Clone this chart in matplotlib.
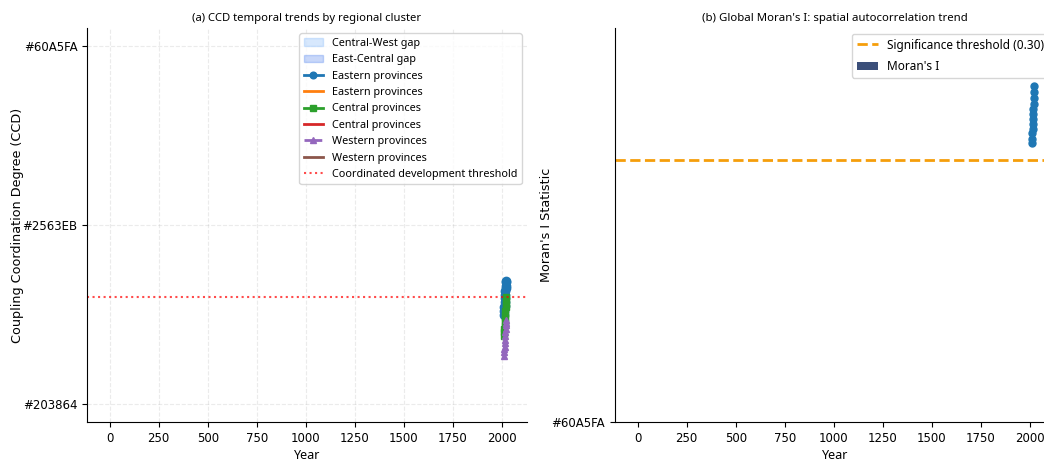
import matplotlib
matplotlib.use('Agg')
import matplotlib.pyplot as plt
import numpy as np

# data
years = [2011, 2012, 2013, 2014, 2015, 2016, 2017, 2018, 2019, 2020, 2021, 2022]
eastern = [0.50, 0.52, 0.54, 0.55, 0.57, 0.59, 0.61, 0.63, 0.65, 0.66, 0.68, 0.69]
central = [0.38, 0.40, 0.42, 0.44, 0.46, 0.48, 0.50, 0.52, 0.54, 0.56, 0.58, 0.60]
western = [0.27, 0.29, 0.31, 0.32, 0.34, 0.36, 0.38, 0.40, 0.42, 0.44, 0.45, 0.47]
moran = [0.320, 0.325, 0.331, 0.336, 0.342, 0.348, 0.353, 0.359, 0.365, 0.372, 0.379, 0.386]
ccd_threshold = 0.6
moran_threshold = 0.30
left_tick_labels = ['#203864', '#2563EB', '#60A5FA']
right_tick_labels = ['#60A5FA']

txt_font = 'Noto Sans'

fig = plt.figure(figsize=(10.44, 4.61), dpi=100)
ax1 = fig.add_axes([0.0833, 0.0846, 0.4215, 0.8547])
ax2 = fig.add_axes([0.589, 0.0846, 0.4215, 0.8547])

# (a) CCD trends
ax1.fill_between(years, central, western, color='#60A5FA', alpha=0.25, label='Central-West gap')
ax1.fill_between(years, eastern, central, color='#2563EB', alpha=0.25, label='East-Central gap')
ax1.plot(years, eastern, marker='o', color='C0', lw=2, ms=6, label='Eastern provinces')
ax1.plot(years, eastern, color='C1', lw=2, label='Eastern provinces', zorder=1)
ax1.plot(years, central, marker='s', color='C2', lw=2, ms=5, label='Central provinces')
ax1.plot(years, central, color='C3', lw=2, label='Central provinces', zorder=1)
ax1.plot(years, western, marker='^', color='C4', lw=2, ls='-.', ms=5, label='Western provinces')
ax1.plot(years, western, color='C5', lw=2, label='Western provinces', zorder=1)
ax1.axhline(ccd_threshold, color='red', ls=':', lw=1.5, alpha=0.7, label='Coordinated development threshold')
ax1.set_xlim(-116, 2128)
ax1.set_ylim(-0.1, 2.1)
ax1.set_yticks(range(len(left_tick_labels)))
ax1.set_yticklabels(left_tick_labels)
ax1.set_xticks(range(0, 2001, 250))
ax1.grid(True, ls='--', alpha=0.25)
ax1.set_xlabel('Year', fontsize=9, family=txt_font, labelpad=3)
ax1.set_ylabel('Coupling Coordination Degree (CCD)', fontsize=9.2, labelpad=-1)
ax1.set_title('(a) CCD temporal trends by regional cluster', fontsize=8.1, family=txt_font, pad=5)
ax1.legend(loc='upper right', prop={'family': txt_font, 'size': 7.8}, labelspacing=0.5,
           markerscale=0.8, handlelength=1.8)
ax1.spines['top'].set_visible(False)
ax1.spines['right'].set_visible(False)
ax1.tick_params(labelsize=8.5)

# (b) Moran's I
ax2.bar(years, moran, width=0.15, color='#3B4F7A', label="Moran's I")
ax2.plot(years, moran, 'o', color='C0', ms=5)
ax2.axhline(moran_threshold, color='#F59E0B', ls='--', lw=2, label='Significance threshold (0.30)')
ax2.set_xlim(-116, 2128)
ax2.set_ylim(0, 0.452)
ax2.set_yticks(range(len(right_tick_labels)))
ax2.set_yticklabels(right_tick_labels)
ax2.set_xticks(range(0, 2001, 250))
ax2.set_xlabel('Year', fontsize=9, family=txt_font, labelpad=3)
ax2.set_ylabel("Moran's I Statistic", fontsize=9.2, labelpad=-1)
ax2.set_title("(b) Global Moran's I: spatial autocorrelation trend", fontsize=8.2, family=txt_font, pad=5)
ax2.legend(loc='upper right', prop={'family': txt_font, 'size': 8.5}, labelspacing=0.7, handlelength=1.8)
ax2.spines['top'].set_visible(False)
ax2.spines['right'].set_visible(False)
ax2.tick_params(labelsize=8.5)

fig.savefig('out.png', dpi=100)
